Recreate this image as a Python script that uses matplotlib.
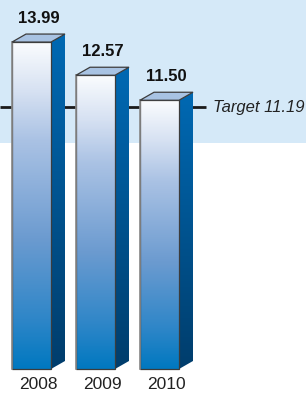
import numpy as np
import matplotlib
matplotlib.use("Agg")
import matplotlib.pyplot as plt
from matplotlib.colors import LinearSegmentedColormap
from matplotlib.patches import Polygon, Rectangle

years = ["2008", "2009", "2010"]
values = [13.99, 12.57, 11.50]
value_labels = ["13.99", "12.57", "11.50"]
target = 11.19
target_label = "Target 11.19"

plt.rcParams["font.family"] = ["Liberation Sans", "DejaVu Sans"]

fig = plt.figure(figsize=(3.06, 3.94), dpi=100)
fig.patch.set_facecolor("white")

ax = fig.add_axes([0, 0, 1, 1])
ax.set_facecolor("white")
ax.axis("off")
# light blue band behind the upper part
ax.add_patch(Rectangle((0, 1 - 143 / 394), 1, 143 / 394, transform=ax.transAxes,
                       facecolor="#D5E9F8", edgecolor="none", zorder=0))

px_x = 64.0     # pixels per category
px_y = 23.37    # pixels per unit
w = 39 / px_x
dx = 14 / px_x
dy = 8 / px_y

front_cmap = LinearSegmentedColormap.from_list(
    "front", [(0, "#0078C0"), (0.15, "#2E86C8"), (0.4, "#6C9BD0"),
              (0.7, "#AAC2E4"), (0.85, "#D6E1F2"), (1, "#FAFCFE")])
side_cmap = LinearSegmentedColormap.from_list("side", ["#003D6C", "#0069B3"])
grad = np.linspace(0, 1, 256).reshape(-1, 1)

# target line behind the bars
ax.plot([-31.5 / px_x, (206 - 31.5) / px_x], [target, target], color="#1a1a1a",
        lw=2, zorder=1, solid_capstyle="butt")
ax.text((213 - 31.5) / px_x, target, target_label, style="italic", fontsize=12,
        va="center", ha="left", color="#222222", zorder=5)

for i, v in enumerate(values):
    x0 = i - w / 2
    x1 = i + w / 2
    # front face
    ax.imshow(grad, cmap=front_cmap, origin="lower", aspect="auto",
              extent=[x0, x1, 0, v], zorder=3)
    ax.add_patch(Rectangle((x0, 0), w, v, facecolor="none", edgecolor="#3c3c3c",
                           lw=0.9, zorder=4))
    ax.plot([x0, x0], [0, v], color="#8a8a8a", lw=1.2, zorder=4)
    # side face
    side = Polygon([(x1, 0), (x1 + dx, dy), (x1 + dx, v + dy), (x1, v)], closed=True,
                   facecolor="none", edgecolor="none", zorder=3)
    ax.add_patch(side)
    im = ax.imshow(grad, cmap=side_cmap, origin="lower", aspect="auto",
                   extent=[x1, x1 + dx, 0, v + dy], zorder=3)
    im.set_clip_path(side)
    # top face
    ax.add_patch(Polygon([(x0, v), (x0 + dx, v + dy), (x1 + dx, v + dy), (x1, v)],
                         closed=True, facecolor="#A8C3E3", edgecolor="#3c3c3c",
                         lw=0.9, zorder=4))
    ax.annotate(value_labels[i], (i + dx / 2, v + dy), xytext=(0, 6),
                textcoords="offset points", ha="center", va="bottom",
                fontsize=12, fontweight="bold", color="#111111", zorder=5)
    ax.annotate(years[i], (i + dx / 2, 0), xytext=(0, -6),
                textcoords="offset points", ha="center", va="top",
                fontsize=12.5, color="#222222", zorder=5)

ax.set_xlim(-31.5 / px_x, (306 - 31.5) / px_x)
ax.set_ylim(-(394 - 369) / px_y, 369 / px_y)

fig.savefig("out.png", dpi=100)
